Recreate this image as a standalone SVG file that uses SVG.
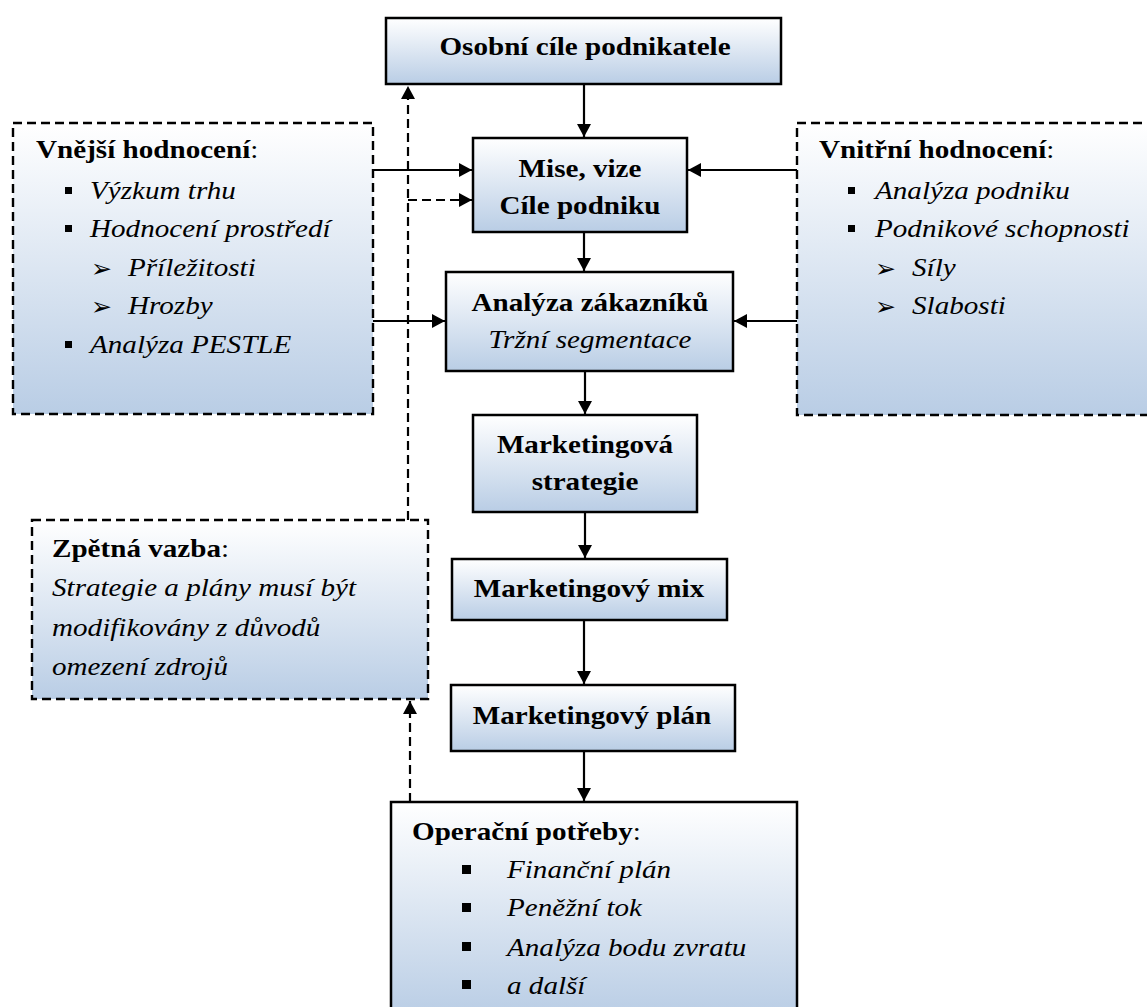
<svg xmlns="http://www.w3.org/2000/svg" width="1147" height="1007" viewBox="0 0 1147 1007">
<style>
.box{stroke:#000;stroke-width:2.5;fill:url(#g)}
.dbox{stroke:#000;stroke-width:2.4;stroke-dasharray:9 5;fill:url(#g)}
.b{font-family:"Liberation Serif","Times New Roman",serif;font-weight:bold;font-size:26px;fill:#000}
.i{font-family:"Liberation Serif","Times New Roman",serif;font-style:italic;font-size:26px;fill:#000}
.n{font-weight:normal}
.c{text-anchor:middle}
.ar{font-family:"DejaVu Sans",sans-serif;font-size:25px;fill:#000}
.ln{stroke:#000;stroke-width:2.2;fill:none}
.dl{stroke:#000;stroke-width:2.2;fill:none;stroke-dasharray:9 5}
</style>
<defs>
<linearGradient id="g" x1="0" y1="0" x2="0" y2="1">
<stop offset="0" stop-color="#ffffff"/>
<stop offset="1" stop-color="#b9cde5"/>
</linearGradient>
<marker id="a" markerUnits="userSpaceOnUse" markerWidth="13" markerHeight="14" refX="13" refY="7" orient="auto" viewBox="0 0 13 14">
<path d="M0,0 L13,7 L0,14 z" fill="#000"/>
</marker>
</defs>
<rect width="1147" height="1007" fill="#fff"/>

<g id="connectors">
<line class="ln" x1="584" y1="84" x2="584" y2="137" marker-end="url(#a)"/>
<line class="ln" x1="373" y1="170" x2="472" y2="170" marker-end="url(#a)"/>
<polyline class="dl" points="408,200 472,200" marker-end="url(#a)"/>
<line class="ln" x1="797" y1="170" x2="688" y2="170" marker-end="url(#a)"/>
<line class="ln" x1="584" y1="232" x2="584" y2="271" marker-end="url(#a)"/>
<line class="ln" x1="373" y1="321" x2="445" y2="321" marker-end="url(#a)"/>
<line class="ln" x1="797" y1="321" x2="734" y2="321" marker-end="url(#a)"/>
<line class="ln" x1="585" y1="371" x2="585" y2="414" marker-end="url(#a)"/>
<line class="ln" x1="585" y1="512" x2="585" y2="558" marker-end="url(#a)"/>
<line class="ln" x1="584" y1="620" x2="584" y2="684" marker-end="url(#a)"/>
<line class="ln" x1="584" y1="751" x2="584" y2="801" marker-end="url(#a)"/>
<line class="dl" x1="408" y1="520" x2="408" y2="86" marker-end="url(#a)"/>
<line class="dl" x1="410" y1="802" x2="410" y2="701" marker-end="url(#a)"/>
</g>

<g id="osobni-cile">
<rect class="box" x="386" y="18" width="395" height="66"/>
<text class="b c" transform="translate(585,55) scale(1.12,1)">Osobní cíle podnikatele</text>
</g>

<g id="mise-vize">
<rect class="box" x="473" y="138" width="214" height="94"/>
<text class="b c" transform="translate(580,177) scale(1.12,1)">Mise, vize</text>
<text class="b c" transform="translate(580,214) scale(1.12,1)">Cíle podniku</text>
</g>

<g id="vnejsi-hodnoceni">
<rect class="dbox" x="13" y="123" width="360" height="291"/>
<text class="b" transform="translate(36,158) scale(1.12,1)">Vnější hodnocení<tspan class="n">:</tspan></text>
<rect x="65" y="187" width="7" height="7"/>
<text class="i" transform="translate(90,199) scale(1.12,1)">Výzkum trhu</text>
<rect x="65" y="225" width="7" height="7"/>
<text class="i" transform="translate(90,237) scale(1.12,1)">Hodnocení prostředí</text>
<text class="ar" x="91" y="277">➢</text>
<text class="i" transform="translate(128,276) scale(1.12,1)">Příležitosti</text>
<text class="ar" x="91" y="315">➢</text>
<text class="i" transform="translate(128,314) scale(1.12,1)">Hrozby</text>
<rect x="65" y="341" width="7" height="7"/>
<text class="i" transform="translate(90,353) scale(1.12,1)">Analýza PESTLE</text>
</g>

<g id="vnitrni-hodnoceni">
<rect class="dbox" x="797" y="123" width="352" height="292"/>
<text class="b" transform="translate(819,158) scale(1.12,1)">Vnitřní hodnocení<tspan class="n">:</tspan></text>
<rect x="848" y="187" width="7" height="7"/>
<text class="i" transform="translate(875,199) scale(1.12,1)">Analýza podniku</text>
<rect x="848" y="225" width="7" height="7"/>
<text class="i" transform="translate(875,237) scale(1.12,1)">Podnikové schopnosti</text>
<text class="ar" x="875" y="277">➢</text>
<text class="i" transform="translate(912,276) scale(1.12,1)">Síly</text>
<text class="ar" x="875" y="315">➢</text>
<text class="i" transform="translate(912,314) scale(1.12,1)">Slabosti</text>
</g>

<g id="analyza-zakazniku">
<rect class="box" x="446" y="272" width="287" height="99"/>
<text class="b c" transform="translate(590,311) scale(1.12,1)">Analýza zákazníků</text>
<text class="i c" transform="translate(590,348) scale(1.12,1)">Tržní segmentace</text>
</g>

<g id="marketingova-strategie">
<rect class="box" x="473" y="415" width="224" height="97"/>
<text class="b c" transform="translate(585,453) scale(1.12,1)">Marketingová</text>
<text class="b c" transform="translate(585,490) scale(1.12,1)">strategie</text>
</g>

<g id="zpetna-vazba">
<rect class="dbox" x="32" y="520" width="396" height="179"/>
<text class="b" transform="translate(52,557) scale(1.12,1)">Zpětná vazba<tspan class="n">:</tspan></text>
<text class="i" transform="translate(52,596) scale(1.12,1)">Strategie a plány musí být</text>
<text class="i" transform="translate(52,636) scale(1.12,1)">modifikovány z důvodů</text>
<text class="i" transform="translate(52,675) scale(1.12,1)">omezení zdrojů</text>
</g>

<g id="marketingovy-mix">
<rect class="box" x="452" y="559" width="275" height="61"/>
<text class="b c" transform="translate(589,597) scale(1.12,1)">Marketingový mix</text>
</g>

<g id="marketingovy-plan">
<rect class="box" x="451" y="685" width="284" height="66"/>
<text class="b c" transform="translate(592,724) scale(1.12,1)">Marketingový plán</text>
</g>

<g id="operacni-potreby">
<rect class="box" x="391" y="802" width="406" height="215"/>
<text class="b" transform="translate(412,840) scale(1.12,1)">Operační potřeby<tspan class="n">:</tspan></text>
<rect x="462" y="865" width="9" height="9"/>
<text class="i" transform="translate(507,878) scale(1.12,1)">Finanční plán</text>
<rect x="462" y="903" width="9" height="9"/>
<text class="i" transform="translate(507,916) scale(1.12,1)">Peněžní tok</text>
<rect x="462" y="942" width="9" height="9"/>
<text class="i" transform="translate(507,956) scale(1.12,1)">Analýza bodu zvratu</text>
<rect x="462" y="980" width="9" height="9"/>
<text class="i" transform="translate(507,994) scale(1.12,1)">a další</text>
</g>
</svg>
